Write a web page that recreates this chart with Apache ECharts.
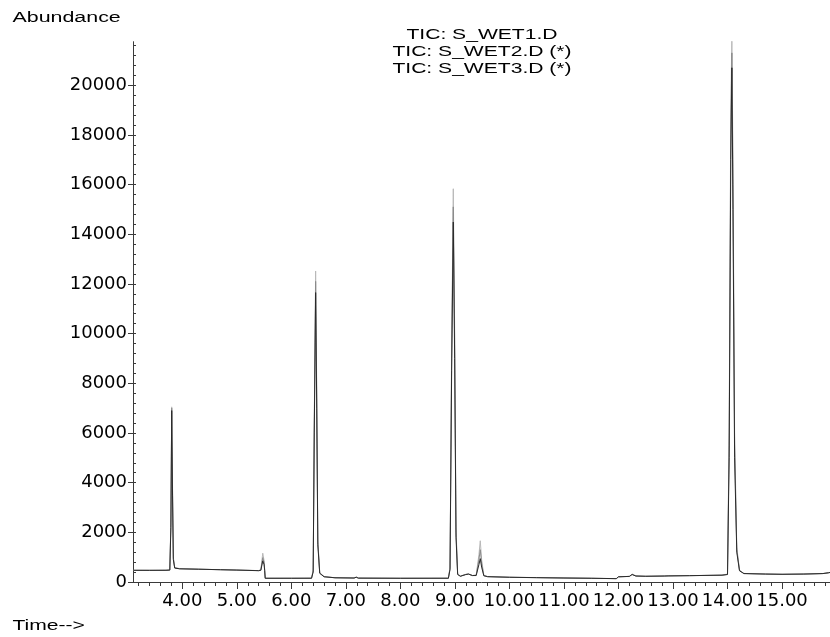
<!DOCTYPE html>
<html>
<head>
<meta charset="utf-8">
<script src="https://cdn.jsdelivr.net/npm/echarts@6/dist/echarts.min.js"></script>
<style>html,body{margin:0;padding:0;background:#fff;}#chart{width:830px;height:637px;}</style>
</head>
<body>
<div id="chart"></div>
<script>
// Retention times (min)
const times = [3.10,3.40,3.70,3.77,3.79,3.805,3.82,3.835,3.86,3.95,4.30,4.70,5.00,5.40,5.44,5.475,5.50,5.51,5.52,6.00,6.37,6.40,6.42,6.445,6.465,6.485,6.52,6.60,6.80,7.15,7.19,7.23,8.00,8.88,8.91,8.94,8.97,8.995,9.02,9.05,9.10,9.20,9.25,9.32,9.39,9.44,9.465,9.49,9.53,9.60,10.00,10.50,11.00,11.50,11.96,12.00,12.20,12.25,12.28,12.32,12.50,12.84,12.875,12.91,13.30,13.90,14.00,14.03,14.06,14.08,14.10,14.13,14.17,14.22,14.30,14.70,15.00,15.40,15.75,15.85,15.88];
// Abundance, TIC: S_WET1.D
const wet1 = [470,468,472,480,2200,6900,3500,900,560,530,515,495,480,455,470,850,700,460,150,150,152,400,6000,11650,7000,1500,350,210,170,160,190,155,150,152,500,8500,14490,9000,1800,300,230,300,320,260,260,700,940,600,250,215,190,175,160,150,135,210,225,300,370,240,230,240,290,245,255,275,300,5000,17000,20700,15000,5000,1200,450,340,320,310,320,340,370,385];
// Abundance, TIC: S_WET2.D (*)
const wet2 = [475,472,470,480,2300,7000,3700,950,570,535,512,498,478,460,480,980,780,480,150,152,150,450,6300,12100,7400,1600,360,215,172,160,195,158,148,150,550,9000,15100,9600,2000,320,235,305,318,262,270,900,1300,750,260,218,192,178,165,148,138,205,228,310,380,245,232,242,295,248,258,272,310,5500,18000,21300,16000,5500,1300,470,345,318,312,318,338,372,380];
// Abundance, TIC: S_WET3.D (*)
const wet3 = [465,470,475,482,2400,7050,3900,1000,580,540,518,490,482,458,500,1160,850,500,150,148,155,500,6500,12520,7800,1700,380,220,168,162,200,156,152,150,600,9500,15830,10200,2200,340,240,310,322,258,280,1100,1660,900,270,212,188,172,158,152,132,215,222,320,390,238,228,238,300,244,252,278,320,6000,19000,21900,17000,6000,1400,480,335,322,308,322,342,368,390];

const xTickLabels = [4,5,6,7,8,9,10,11,12,13,14,15];
const yTickLabels = [0,2000,4000,6000,8000,10000,12000,14000,16000,18000,20000];
const seriesNames = ['TIC: S_WET1.D','TIC: S_WET2.D (*)','TIC: S_WET3.D (*)'];

const X_MIN = 3.095, X_MAX = 15.88, Y_MIN = 0, Y_MAX = 21750;

const xMinor = [];
for (let k = 16; k <= 79; k++) xMinor.push(+(k * 0.2).toFixed(1));
const yMinor = [];
for (let v = 400; v <= 21600; v += 400) yMinor.push(v);

const zip = (vals) => times.map((t, i) => [t, vals[i]]);

const axisColor = '#3a3a3a';
const labelFont = {fontFamily: 'DejaVu Sans', fontSize: 18, color: '#000'};
const titleFont = '15.5px "Liberation Sans"';

const chart = echarts.init(document.getElementById('chart'), null, {renderer: 'canvas'});
chart.setOption({
  animation: false,
  backgroundColor: '#fff',
  grid: {left: 133, right: 0, top: 41.7, bottom: 55, containLabel: false},
  xAxis: [
    {
      type: 'value', min: X_MIN, max: X_MAX,
      axisLine: {show: true, lineStyle: {color: axisColor, width: 1}},
      axisTick: {show: true, length: 7, lineStyle: {color: axisColor}, customValues: xTickLabels},
      axisLabel: Object.assign({show: true, margin: 10, customValues: xTickLabels,
        formatter: (v) => Number(v).toFixed(2)}, labelFont),
      splitLine: {show: false}
    },
    {
      type: 'value', min: X_MIN, max: X_MAX, position: 'bottom',
      axisLine: {show: false},
      axisTick: {show: true, length: 4, lineStyle: {color: axisColor}, customValues: xMinor},
      axisLabel: {show: false},
      splitLine: {show: false}
    }
  ],
  yAxis: [
    {
      type: 'value', min: Y_MIN, max: Y_MAX,
      axisLine: {show: true, lineStyle: {color: axisColor, width: 1}},
      axisTick: {show: true, length: 5, lineStyle: {color: axisColor}, customValues: yTickLabels},
      axisLabel: Object.assign({show: true, margin: 6, customValues: yTickLabels,
        formatter: (v) => String(Math.round(v))}, labelFont),
      splitLine: {show: false}
    },
    {
      type: 'value', min: Y_MIN, max: Y_MAX, position: 'left',
      axisLine: {show: false},
      axisTick: {show: true, inside: true, length: 3, lineStyle: {color: axisColor}, customValues: yMinor},
      axisLabel: {show: false},
      splitLine: {show: false}
    }
  ],
  series: [
    {name: seriesNames[2], type: 'line', data: zip(wet3), showSymbol: false, lineStyle: {color: '#b8b8b8', width: 1}, itemStyle: {color: '#b8b8b8'}, z: 2},
    {name: seriesNames[1], type: 'line', data: zip(wet2), showSymbol: false, lineStyle: {color: '#8a8a8a', width: 1}, itemStyle: {color: '#8a8a8a'}, z: 3},
    {name: seriesNames[0], type: 'line', data: zip(wet1), showSymbol: false, lineStyle: {color: '#2a2a2a', width: 1}, itemStyle: {color: '#2a2a2a'}, z: 4}
  ],
  graphic: [
    {type: 'text', x: 12.5, y: 18, scaleX: 1.38, style: {text: 'Abundance', fill: '#000', font: titleFont, textAlign: 'left', textVerticalAlign: 'middle'}},
    {type: 'text', x: 482, y: 34.5, scaleX: 1.36, style: {text: seriesNames[0], fill: '#000', font: titleFont, textAlign: 'center', textVerticalAlign: 'middle'}},
    {type: 'text', x: 482, y: 51.5, scaleX: 1.36, style: {text: seriesNames[1], fill: '#000', font: titleFont, textAlign: 'center', textVerticalAlign: 'middle'}},
    {type: 'text', x: 482, y: 68.5, scaleX: 1.36, style: {text: seriesNames[2], fill: '#000', font: titleFont, textAlign: 'center', textVerticalAlign: 'middle'}},
    {type: 'text', x: 12.5, y: 626, scaleX: 1.36, style: {text: 'Time-->', fill: '#000', font: titleFont, textAlign: 'left', textVerticalAlign: 'middle'}}
  ]
});
</script>
</body>
</html>
